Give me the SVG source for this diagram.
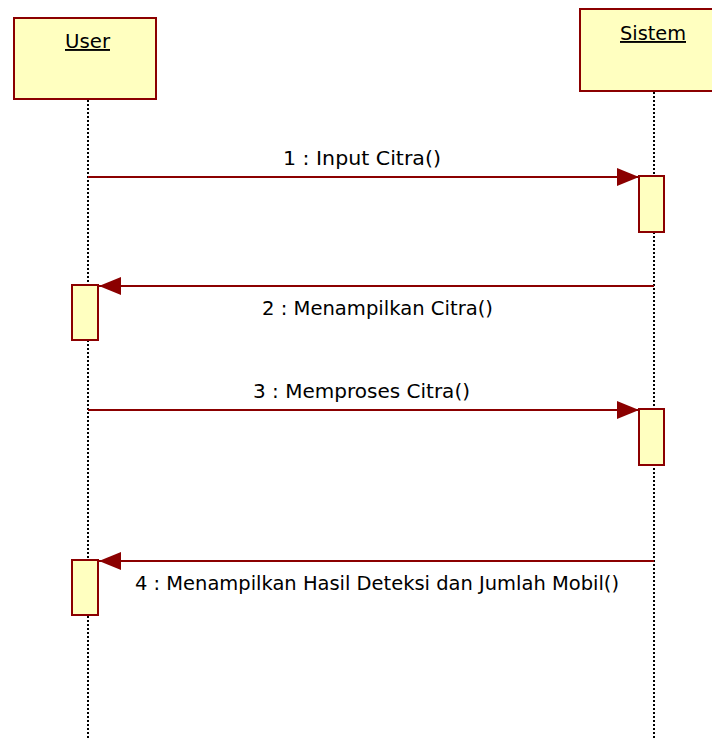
<svg xmlns="http://www.w3.org/2000/svg" width="712" height="740" viewBox="0 0 712 740">
<defs>
<style>
.obj{fill:#ffffc0;stroke:#8b0000;stroke-width:2}
.life{stroke:#000;stroke-width:2;stroke-dasharray:2 2;fill:none}
.msg{stroke:#8b0000;stroke-width:2;fill:none}
.t{font-family:Tahoma,"DejaVu Sans","Liberation Sans",sans-serif;font-size:19px;fill:#000;text-anchor:middle}
.u{text-decoration:underline}
</style>
<marker id="ah" viewBox="0 0 22 18" refX="22" refY="9" markerWidth="22" markerHeight="18" markerUnits="userSpaceOnUse" orient="auto">
<path d="M0,0 L22,9 L0,18 Z" fill="#8b0000"/>
</marker>
</defs>
<rect width="712" height="740" fill="#fff"/>
<g id="user">
<line class="life" x1="88" y1="100" x2="88" y2="740"/>
<rect class="obj" x="14" y="18" width="142" height="81"/>
<text class="t u" x="87.5" y="48" textLength="45" lengthAdjust="spacingAndGlyphs">User</text>
</g>
<g id="sistem">
<line class="life" x1="654" y1="92" x2="654" y2="740"/>
<rect class="obj" x="580" y="9" width="140" height="82"/>
<text class="t u" x="653" y="40" textLength="66" lengthAdjust="spacingAndGlyphs">Sistem</text>
</g>
<g id="act1"><rect class="obj" x="639" y="176" width="25" height="56"/></g>
<g id="act2"><rect class="obj" x="72" y="285" width="26" height="55"/></g>
<g id="act3"><rect class="obj" x="639" y="409" width="25" height="56"/></g>
<g id="act4"><rect class="obj" x="72" y="560" width="26" height="55"/></g>
<g id="connectors">
<line class="msg" x1="88" y1="177" x2="639" y2="177" marker-end="url(#ah)"/>
<text class="t" x="362" y="165" textLength="158" lengthAdjust="spacingAndGlyphs">1 : Input Citra()</text>
<line class="msg" x1="654" y1="286" x2="99" y2="286" marker-end="url(#ah)"/>
<text class="t" x="377.5" y="315" textLength="231" lengthAdjust="spacingAndGlyphs">2 : Menampilkan Citra()</text>
<line class="msg" x1="88" y1="410" x2="639" y2="410" marker-end="url(#ah)"/>
<text class="t" x="361.5" y="398" textLength="217" lengthAdjust="spacingAndGlyphs">3 : Memproses Citra()</text>
<line class="msg" x1="654" y1="561" x2="99" y2="561" marker-end="url(#ah)"/>
<text class="t" x="377" y="590" textLength="484" lengthAdjust="spacingAndGlyphs">4 : Menampilkan Hasil Deteksi dan Jumlah Mobil()</text>
</g>
</svg>
